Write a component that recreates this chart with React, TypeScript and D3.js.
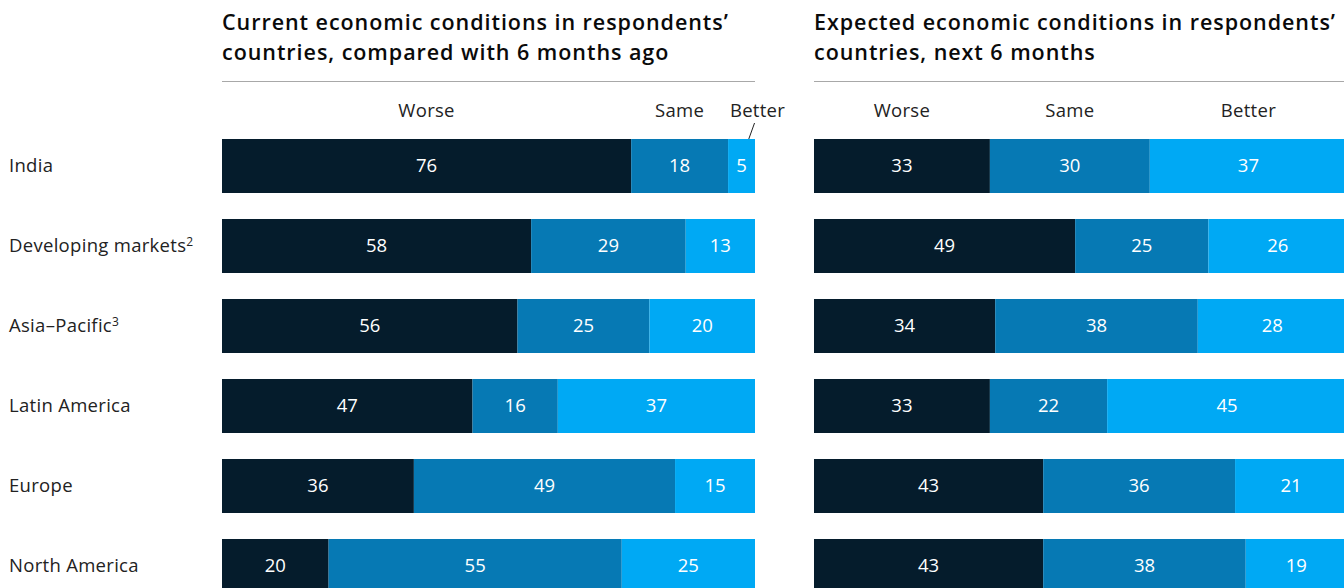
import { useEffect, useRef } from 'react'
import * as d3 from 'd3'

const categories = ['India', 'Developing markets', 'Asia–Pacific', 'Latin America', 'Europe', 'North America']
const footnotes = ['', '2', '3', '', '', '']
const segments = ['Worse', 'Same', 'Better']

const currentWorse = [76, 58, 56, 47, 36, 20]
const currentSame = [18, 29, 25, 16, 49, 55]
const currentBetter = [5, 13, 20, 37, 15, 25]

const expectedWorse = [33, 49, 34, 33, 43, 43]
const expectedSame = [30, 25, 38, 22, 36, 38]
const expectedBetter = [37, 26, 28, 45, 21, 19]

const currentTitle = ['Current economic conditions in respondents’', 'countries, compared with 6 months ago']
const expectedTitle = ['Expected economic conditions in respondents’', 'countries, next 6 months']

const colors = ['#051c2c', '#0679b4', '#00a9f4']

const W = 1344
const H = 588

export default function App() {
  const svgRef = useRef<SVGSVGElement>(null)

  useEffect(() => {
    if (!svgRef.current) return
    const svg = d3.select(svgRef.current)
    svg.selectAll('*').remove()

    const font = '"Open Sans", "Liberation Sans", sans-serif'

    const y = d3.scaleBand<string>()
      .domain(categories)
      .range([139, 593])
      .paddingInner(0.325)
      .paddingOuter(0)

    // row labels
    const rowLabels = svg.append('g')
      .selectAll('text')
      .data(categories)
      .enter()
      .append('text')
      .attr('x', 9)
      .attr('y', d => (y(d) || 0) + y.bandwidth() / 2)
      .attr('dy', '0.35em')
      .style('font-family', font)
      .style('font-size', '18.5px')
      .style('letter-spacing', '0.3px')
      .style('fill', '#222')
    rowLabels.append('tspan').text(d => d)
    rowLabels.append('tspan')
      .attr('dy', '-0.5em')
      .style('font-size', '12px')
      .text((d, i) => footnotes[i])

    const panels = [
      { x0: 222, title: currentTitle, rows: [currentWorse, currentSame, currentBetter] },
      { x0: 814, title: expectedTitle, rows: [expectedWorse, expectedSame, expectedBetter] }
    ]

    panels.forEach(p => {
      const g = svg.append('g')
      const width = 533

      p.title.forEach((line, li) => {
        g.append('text')
          .attr('x', p.x0)
          .attr('y', 30 + li * 30)
          .style('font-family', font)
          .style('font-size', '21.5px')
          .style('font-weight', 600)
          .style('letter-spacing', '0.95px')
          .style('fill', '#0a0a0a')
          .text(line)
      })

      g.append('line')
        .attr('x1', p.x0)
        .attr('x2', p.x0 + width)
        .attr('y1', 81.5)
        .attr('y2', 81.5)
        .attr('stroke', '#a8a8a8')
        .attr('stroke-width', 1)

      const stack = categories.map((c, i) => {
        const vals = p.rows.map(r => r[i])
        const total = d3.sum(vals)
        const x = d3.scaleLinear().domain([0, total]).range([p.x0, p.x0 + width])
        let acc = 0
        return vals.map((v, k) => {
          const s = { cat: c, key: segments[k], k, v, x0: x(acc), x1: x(acc + v) }
          acc += v
          return s
        })
      })

      // column headers, centred on the first row's segments
      stack[0].forEach(s => {
        const cx = (s.x0 + s.x1) / 2
        const narrow = s.x1 - s.x0 < 50
        g.append('text')
          .attr('x', narrow ? cx + 16 : cx)
          .attr('y', 117)
          .attr('text-anchor', 'middle')
          .style('font-family', font)
          .style('font-size', '18.5px')
          .style('letter-spacing', '0.3px')
          .style('fill', '#222')
          .text(s.key)
        if (narrow) {
          g.append('line')
            .attr('x1', cx + 13)
            .attr('y1', 123)
            .attr('x2', cx + 4)
            .attr('y2', 148)
            .attr('stroke', '#222')
            .attr('stroke-width', 1)
        }
      })

      const flat = stack.flat()
      g.selectAll('rect.seg')
        .data(flat)
        .enter()
        .append('rect')
        .attr('class', 'seg')
        .attr('x', d => d.x0)
        .attr('width', d => d.x1 - d.x0)
        .attr('y', d => y(d.cat) || 0)
        .attr('height', y.bandwidth())
        .attr('fill', d => colors[d.k])

      g.selectAll('text.val')
        .data(flat)
        .enter()
        .append('text')
        .attr('class', 'val')
        .attr('x', d => (d.x0 + d.x1) / 2)
        .attr('y', d => (y(d.cat) || 0) + y.bandwidth() / 2)
        .attr('dy', '0.35em')
        .attr('text-anchor', 'middle')
        .style('font-family', font)
        .style('font-size', '18.5px')
        .style('fill', '#fff')
        .text(d => d.v)
    })
  }, [])

  return (
    <div style={{ position: 'absolute', left: 0, top: 0, width: W, height: H, overflow: 'hidden', background: '#fff' }}>
      <svg ref={svgRef} width={W} height={H} style={{ display: 'block' }} />
    </div>
  )
}
